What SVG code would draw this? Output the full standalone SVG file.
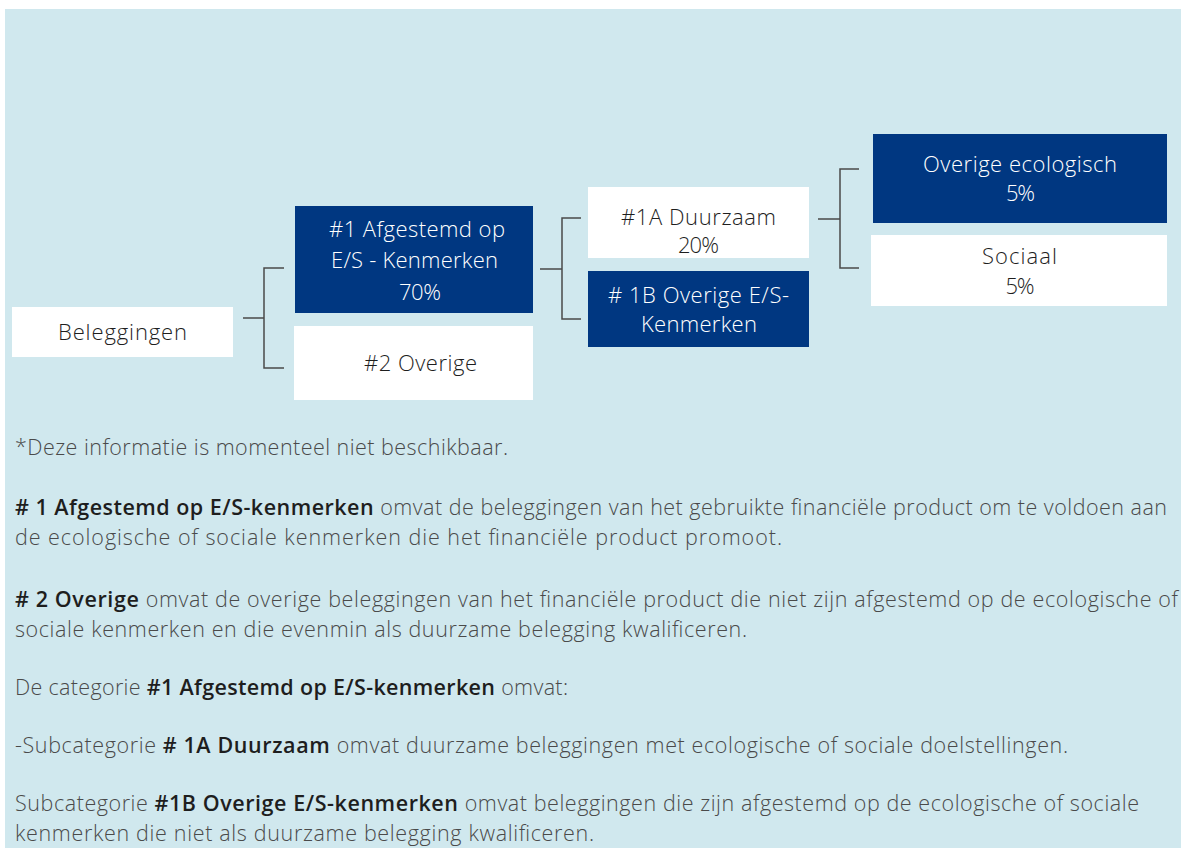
<svg xmlns="http://www.w3.org/2000/svg" width="1186" height="848" viewBox="0 0 1186 848">
<style>
.bg{fill:#d0e8ee}
.blue{fill:#003781}
.white{fill:#ffffff}
.lt{font-family:"Open Sans","Liberation Sans",sans-serif;font-size:22px;font-weight:300;text-anchor:middle}
.lw{fill:#ffffff}
.ld{fill:#1e1e1e}
.conn{fill:none;stroke:#4a4a4a;stroke-width:1.5}
.body{font-family:"Open Sans","Liberation Sans",sans-serif;font-size:21.5px;font-weight:300;fill:#4a4a4a}
.b{font-weight:600;fill:#1e1e1e}
</style>
<rect class="bg" x="5" y="9" width="1176" height="839"/>
<g id="connectors">
<path class="conn" d="M243 318H264M284 268H264V368H284"/>
<path class="conn" d="M540 269H562M581 218H562V319H581"/>
<path class="conn" d="M818 219H840M859 169H840V268H859"/>
</g>
<g id="n-beleggingen">
<rect class="white" x="12" y="307" width="221" height="50"/>
<text class="lt ld" x="122.5" y="340" textLength="129">Beleggingen</text>
</g>
<g id="n-1">
<rect class="blue" x="295" y="206" width="238" height="107"/>
<text class="lt lw" x="417" y="237" textLength="176">#1 Afgestemd op</text>
<text class="lt lw" x="414.5" y="268" textLength="167">E/S - Kenmerken</text>
<text class="lt lw" x="420" y="300" textLength="42">70%</text>
</g>
<g id="n-2">
<rect class="white" x="294" y="326" width="239" height="74"/>
<text class="lt ld" x="420.5" y="371" textLength="113">#2 Overige</text>
</g>
<g id="n-1a">
<rect class="white" x="588" y="187" width="221" height="71"/>
<text class="lt ld" x="698.5" y="225" textLength="155">#1A Duurzaam</text>
<text class="lt ld" x="698.5" y="253" textLength="41">20%</text>
</g>
<g id="n-1b">
<rect class="blue" x="588" y="271" width="221" height="76"/>
<text class="lt lw" x="698.5" y="303" textLength="181"># 1B Overige E/S-</text>
<text class="lt lw" x="699" y="332" textLength="116">Kenmerken</text>
</g>
<g id="n-eco">
<rect class="blue" x="873" y="134" width="294" height="89"/>
<text class="lt lw" x="1020" y="172" textLength="194">Overige ecologisch</text>
<text class="lt lw" x="1020.5" y="201" textLength="29">5%</text>
</g>
<g id="n-sociaal">
<rect class="white" x="871" y="235" width="296" height="71"/>
<text class="lt ld" x="1019.5" y="264" textLength="75">Sociaal</text>
<text class="lt ld" x="1020" y="294" textLength="29">5%</text>
</g>
<g id="notes">
<text class="body" x="15" y="455" textLength="493">*Deze informatie is momenteel niet beschikbaar.</text>
<text class="body" x="15" y="515" textLength="1152"><tspan class="b"># 1 Afgestemd op E/S-kenmerken</tspan> omvat de beleggingen van het gebruikte financiële product om te voldoen aan</text>
<text class="body" x="15" y="545" textLength="767">de ecologische of sociale kenmerken die het financiële product promoot.</text>
<text class="body" x="15" y="607" textLength="1163"><tspan class="b"># 2 Overige</tspan> omvat de overige beleggingen van het financiële product die niet zijn afgestemd op de ecologische of</text>
<text class="body" x="15" y="637" textLength="732">sociale kenmerken en die evenmin als duurzame belegging kwalificeren.</text>
<text class="body" x="15" y="695" textLength="553">De categorie <tspan class="b">#1 Afgestemd op E/S-kenmerken</tspan> omvat:</text>
<text class="body" x="15" y="753" textLength="1053">-Subcategorie <tspan class="b"># 1A Duurzaam</tspan> omvat duurzame beleggingen met ecologische of sociale doelstellingen.</text>
<text class="body" x="15" y="811" textLength="1124">Subcategorie <tspan class="b">#1B Overige E/S-kenmerken</tspan> omvat beleggingen die zijn afgestemd op de ecologische of sociale</text>
<text class="body" x="15" y="841" textLength="579">kenmerken die niet als duurzame belegging kwalificeren.</text>
</g>
</svg>
